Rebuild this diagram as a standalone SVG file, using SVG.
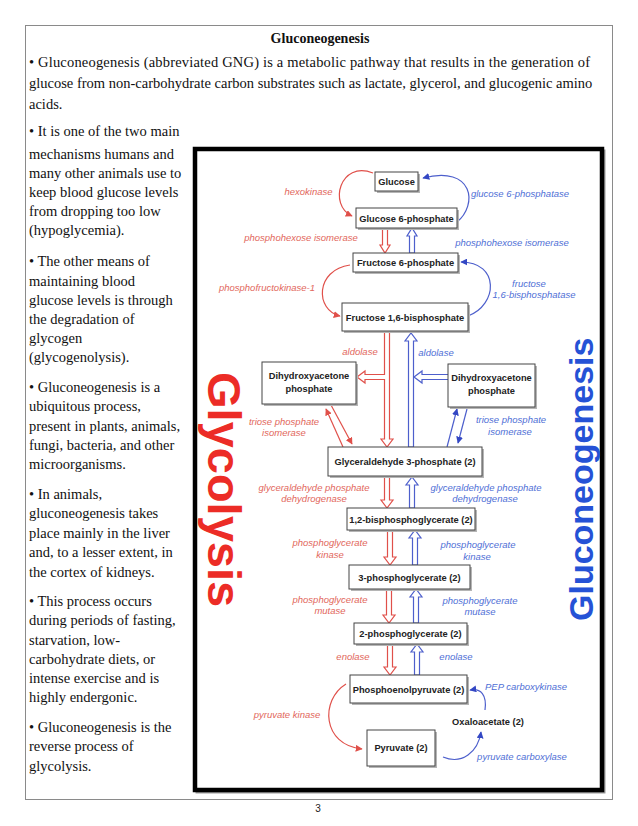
<svg xmlns="http://www.w3.org/2000/svg" width="638" height="826" viewBox="0 0 638 826">
<style>
.body{font-family:"Liberation Serif","Times New Roman",serif;font-size:14.5px;fill:#111}
.title{font-family:"Liberation Serif","Times New Roman",serif;font-size:14px;font-weight:bold;fill:#111}
.node{font-family:"Liberation Sans",Arial,sans-serif;font-size:9.3px;font-weight:bold;fill:#222;text-anchor:middle}
.lr{font-family:"Liberation Sans",Arial,sans-serif;font-size:9.5px;font-style:italic;fill:#e2675c;text-anchor:middle}
.lb{font-family:"Liberation Sans",Arial,sans-serif;font-size:9.5px;font-style:italic;fill:#4f6fd6;text-anchor:middle}
.box{fill:#fff;stroke:#444;stroke-width:1}
.shadow{fill:#b5b5b5}
.hr{fill:#fff;stroke:#e0504a;stroke-width:1.2}
.hb{fill:#fff;stroke:#4d5fcc;stroke-width:1.2}
.cr{fill:none;stroke:#e0504a;stroke-width:1.2}
.cb{fill:none;stroke:#4d5fcc;stroke-width:1.2}
</style>
<defs>
<marker id="ar" viewBox="0 0 10 10" refX="9" refY="5" markerWidth="7" markerHeight="7" markerUnits="userSpaceOnUse" orient="auto"><path d="M0,0 L10,5 L0,10 Z" fill="#e0504a"/></marker>
<marker id="ab" viewBox="0 0 10 10" refX="9" refY="5" markerWidth="7" markerHeight="7" markerUnits="userSpaceOnUse" orient="auto"><path d="M0,0 L10,5 L0,10 Z" fill="#3347c4"/></marker>
</defs>
<rect width="638" height="826" fill="#fff"/>
<rect x="25.5" y="25.5" width="587" height="774" fill="none" stroke="#8a8a8a" stroke-width="1"/>
<text class="title" x="320" y="43" text-anchor="middle">Gluconeogenesis</text>
<g id="intro" class="body">
<text x="29" y="67" textLength="561" lengthAdjust="spacing">• Gluconeogenesis (abbreviated GNG) is a metabolic pathway that results in the generation of</text>
<text x="29" y="88">glucose from non-carbohydrate carbon substrates such as lactate, glycerol, and glucogenic amino</text>
<text x="29" y="109">acids.</text>
</g>
<g id="leftcol" class="body">
<text x="29" y="136">• It is one of the two main</text>
<text x="29" y="159">mechanisms humans and</text>
<text x="29" y="178">many other animals use to</text>
<text x="29" y="197">keep blood glucose levels</text>
<text x="29" y="216">from dropping too low</text>
<text x="29" y="235">(hypoglycemia).</text>
<text x="29" y="266">• The other means of</text>
<text x="29" y="286">maintaining blood</text>
<text x="29" y="305">glucose levels is through</text>
<text x="29" y="324">the degradation of</text>
<text x="29" y="343">glycogen</text>
<text x="29" y="362">(glycogenolysis).</text>
<text x="29" y="392">• Gluconeogenesis is a</text>
<text x="29" y="411">ubiquitous process,</text>
<text x="29" y="431">present in plants, animals,</text>
<text x="29" y="450">fungi, bacteria, and other</text>
<text x="29" y="469">microorganisms.</text>
<text x="29" y="499">• In animals,</text>
<text x="29" y="518">gluconeogenesis takes</text>
<text x="29" y="538">place mainly in the liver</text>
<text x="29" y="557">and, to a lesser extent, in</text>
<text x="29" y="577">the cortex of kidneys.</text>
<text x="29" y="606">• This process occurs</text>
<text x="29" y="625">during periods of fasting,</text>
<text x="29" y="645">starvation, low-</text>
<text x="29" y="664">carbohydrate diets, or</text>
<text x="29" y="683">intense exercise and is</text>
<text x="29" y="702">highly endergonic.</text>
<text x="29" y="732">• Gluconeogenesis is the</text>
<text x="29" y="751">reverse process of</text>
<text x="29" y="771">glycolysis.</text>
</g>
<text x="318" y="812" font-family="Liberation Sans, Arial, sans-serif" font-size="10" fill="#222" text-anchor="middle">3</text>

<g id="figure">
<rect x="197" y="151" width="407" height="641" fill="none" stroke="#9a9a9a" stroke-width="3"/>
<rect x="195" y="149" width="407" height="641" fill="#fff" stroke="#000" stroke-width="4.5"/>
<text transform="translate(208,372) rotate(90)" font-family="Liberation Sans, Arial, sans-serif" font-weight="bold" font-size="47" fill="#ec2c26">Glycolysis</text>
<text transform="translate(593,621) rotate(-90)" font-family="Liberation Sans, Arial, sans-serif" font-weight="bold" font-size="34" fill="#2552d6">Gluconeogenesis</text>
</g>

<g id="connectors">
<path class="cr" d="M373,173 C340,160 328,205 352,216" marker-end="url(#ar)"/>
<path class="cb" d="M457,222 C478,205 474,165 423,178" marker-end="url(#ab)"/>
<path class="cr" d="M350,265 C315,270 315,310 340,316" marker-end="url(#ar)"/>
<path class="cb" d="M468,316 C498,305 500,262 461,262" marker-end="url(#ab)"/>
<path class="cr" d="M346,684 C320,700 322,745 362,749" marker-end="url(#ar)"/>
<path class="cb" d="M443,757 C462,765 478,752 481,732" marker-end="url(#ab)"/>
<path class="cb" d="M485,710 C487,695 481,688 470,690" marker-end="url(#ab)"/>
<path class="cr" d="M343,447 L326,409" marker-end="url(#ar)"/>
<path class="cr" d="M331,405 L352,444" marker-end="url(#ar)"/>
<path class="cb" d="M447,447 L457,409" marker-end="url(#ab)"/>
<path class="cb" d="M467,409 L458,443" marker-end="url(#ab)"/>
<path class="hr" d="M382.5,228 V245 H380 L385,253 L390,245 H387.5 V228 Z"/>
<path class="hb" d="M409.5,253 V236 H407 L412,228 L417,236 H414.5 V253 Z"/>
<path class="hr" d="M384.5,331 V374.5 H365 V371 L357,377 L365,383 V379.5 H384.5 V439 H381 L387,447 L393,439 H389.5 V331 Z"/>
<path class="hb" d="M408.5,447 V341 H405 L411,333 L417,341 H413.5 V447 Z"/>
<path class="hb" d="M448,374.5 H422 V371 L414,377 L422,383 V379.5 H448"/>
<path class="hr" d="M384.5,476 V500 H381 L387,508 L393,500 H389.5 V476 Z"/>
<path class="hb" d="M409.5,508 V485 H406 L412,477 L418,485 H414.5 V508 Z"/>
<path class="hr" d="M387.5,530 V557 H384 L390,565 L396,557 H392.5 V530 Z"/>
<path class="hb" d="M412.5,565 V538 H409 L415,530 L421,538 H417.5 V565 Z"/>
<path class="hr" d="M386.5,589 V615 H383 L389,623 L395,615 H391.5 V589 Z"/>
<path class="hb" d="M413.5,623 V597 H410 L416,589 L422,597 H418.5 V623 Z"/>
<path class="hr" d="M387.5,644 V667 H384 L390,675 L396,667 H392.5 V644 Z"/>
<path class="hb" d="M414.5,675 V652 H411 L417,644 L423,652 H419.5 V675 Z"/>
</g>

<g id="n-glucose"><rect class="shadow" x="377" y="174" width="43" height="19"/><rect class="box" x="375" y="172" width="43" height="19"/><text class="node" x="396.5" y="185">Glucose</text></g>
<g id="n-g6p"><rect class="shadow" x="358" y="210" width="101" height="20"/><rect class="box" x="356" y="208" width="101" height="20"/><text class="node" x="406.5" y="221.5">Glucose 6-phosphate</text></g>
<g id="n-f6p"><rect class="shadow" x="355" y="255" width="105" height="19"/><rect class="box" x="353" y="253" width="105" height="19"/><text class="node" x="405.5" y="266">Fructose 6-phosphate</text></g>
<g id="n-f16bp"><rect class="shadow" x="344" y="305" width="126" height="28"/><rect class="box" x="342" y="303" width="126" height="28"/><text class="node" x="405" y="320.5">Fructose 1,6-bisphosphate</text></g>
<g id="n-dhap-l"><rect class="shadow" x="264" y="364" width="94" height="42"/><rect class="box" x="262" y="362" width="94" height="42"/><text class="node" x="309" y="379">Dihydroxyacetone</text><text class="node" x="309" y="392">phosphate</text></g>
<g id="n-dhap-r"><rect class="shadow" x="450" y="366" width="87" height="43"/><rect class="box" x="448" y="364" width="87" height="43"/><text class="node" x="491.5" y="381">Dihydroxyacetone</text><text class="node" x="491.5" y="394">phosphate</text></g>
<g id="n-g3p"><rect class="shadow" x="330" y="449" width="154" height="29"/><rect class="box" x="328" y="447" width="154" height="29"/><text class="node" x="405" y="465">Glyceraldehyde 3-phosphate (2)</text></g>
<g id="n-bpg"><rect class="shadow" x="349" y="510" width="128" height="22"/><rect class="box" x="347" y="508" width="128" height="22"/><text class="node" x="411" y="522.5">1,2-bisphosphoglycerate (2)</text></g>
<g id="n-3pg"><rect class="shadow" x="351" y="567" width="121" height="24"/><rect class="box" x="349" y="565" width="121" height="24"/><text class="node" x="409.5" y="580.5">3-phosphoglycerate (2)</text></g>
<g id="n-2pg"><rect class="shadow" x="356" y="625" width="113" height="21"/><rect class="box" x="354" y="623" width="113" height="21"/><text class="node" x="410.5" y="637">2-phosphoglycerate (2)</text></g>
<g id="n-pep"><rect class="shadow" x="352" y="677" width="117" height="28"/><rect class="box" x="350" y="675" width="117" height="28"/><text class="node" x="408.5" y="692.5">Phosphoenolpyruvate (2)</text></g>
<g id="n-oaa"><text class="node" x="488" y="725">Oxaloacetate (2)</text></g>
<g id="n-pyr"><rect class="shadow" x="369" y="732" width="68" height="36"/><rect class="box" x="367" y="730" width="68" height="36"/><text class="node" x="401" y="751">Pyruvate (2)</text></g>

<g id="labels">
<text class="lr" x="308.5" y="195">hexokinase</text>
<text class="lb" x="520" y="197">glucose 6-phosphatase</text>
<text class="lr" x="301" y="241">phosphohexose isomerase</text>
<text class="lb" x="512" y="246">phosphohexose isomerase</text>
<text class="lr" x="267" y="291">phosphofructokinase-1</text>
<text class="lb" x="529" y="287">fructose</text>
<text class="lb" x="534" y="298">1,6-bisphosphatase</text>
<text class="lr" x="360" y="355">aldolase</text>
<text class="lb" x="436" y="356">aldolase</text>
<text class="lr" x="284" y="425">triose phosphate</text>
<text class="lr" x="284" y="436">isomerase</text>
<text class="lb" x="511" y="423">triose phosphate</text>
<text class="lb" x="510" y="435">isomerase</text>
<text class="lr" x="314" y="491">glyceraldehyde phosphate</text>
<text class="lr" x="314" y="502">dehydrogenase</text>
<text class="lb" x="486" y="491">glyceraldehyde phosphate</text>
<text class="lb" x="485" y="502">dehydrogenase</text>
<text class="lr" x="330" y="546">phosphoglycerate</text>
<text class="lr" x="330" y="558">kinase</text>
<text class="lb" x="478" y="548">phosphoglycerate</text>
<text class="lb" x="477" y="560">kinase</text>
<text class="lr" x="330" y="603">phosphoglycerate</text>
<text class="lr" x="330" y="614">mutase</text>
<text class="lb" x="480" y="604">phosphoglycerate</text>
<text class="lb" x="480" y="615">mutase</text>
<text class="lr" x="353" y="660">enolase</text>
<text class="lb" x="456" y="660">enolase</text>
<text class="lb" x="526" y="690">PEP carboxykinase</text>
<text class="lr" x="287" y="718">pyruvate kinase</text>
<text class="lb" x="522" y="760">pyruvate carboxylase</text>
</g>
</svg>
